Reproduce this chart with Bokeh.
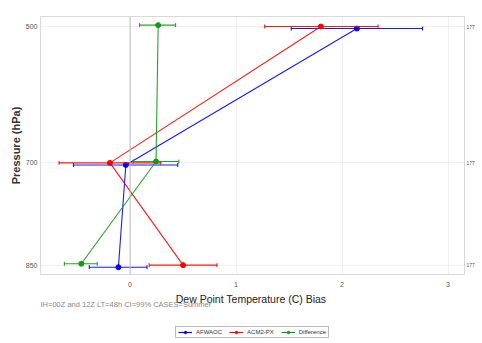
import math
from bokeh.plotting import figure
from bokeh.layouts import column
from bokeh.models import (Range1d, FixedTicker, LinearAxis, ColumnDataSource,
                          Span, Label, Legend, LegendItem)
from bokeh.embed import file_html
from bokeh.resources import INLINE

# ---------------- data ----------------
levels = [500, 700, 850]
sample_sizes = [177, 177, 177]

afwaoc_bias = [2.14, -0.04, -0.11]
afwaoc_lo = [1.52, -0.535, -0.385]
afwaoc_hi = [2.76, 0.45, 0.16]

acm2_bias = [1.80, -0.19, 0.50]
acm2_lo = [1.27, -0.67, 0.18]
acm2_hi = [2.34, 0.29, 0.82]

diff_bias = [0.265, 0.245, -0.46]
diff_lo = [0.09, 0.03, -0.62]
diff_hi = [0.43, 0.46, -0.31]

x_ticks = [0, 1, 2, 3]
x_title = "Dew Point Temperature (C) Bias"
y_title = "Pressure (hPa)"
caption = "IH=00Z and 12Z  LT=48h CI=99% CASES=Summer"

series = [
    ("AFWAOC", afwaoc_bias, afwaoc_lo, afwaoc_hi, "#0000ff", 3.0),
    ("ACM2-PX", acm2_bias, acm2_lo, acm2_hi, "#ff0000", 0.0),
    ("Difference", diff_bias, diff_lo, diff_hi, "#119911", -2.0),
]

FONT = "Liberation Sans"
LEFT, FW, FH, RIGHT = 40, 424, 258, 10
TOTAL_W = LEFT + FW + RIGHT

p = figure(frame_width=FW, frame_height=FH, output_backend="svg", toolbar_location=None,
           x_range=Range1d(-0.845, 3.155), y_range=Range1d(863.7, 485.3),
           min_border_left=LEFT, min_border_top=16, min_border_right=RIGHT, min_border_bottom=0)
p.background_fill_color = "white"
p.border_fill_color = "white"
p.outline_line_color = "#d9d9d9"
p.outline_line_width = 1

# grids
p.xgrid.ticker = FixedTicker(ticks=x_ticks)
p.ygrid.ticker = FixedTicker(ticks=levels)
for g in (p.xgrid, p.ygrid):
    g.grid_line_color = "#e3e3e3"
    g.grid_line_dash = "1 1"
    g.grid_line_width = 1

p.add_layout(Span(location=0, dimension="height", line_color="#bdbdbd", line_width=1))

def strip(ax):
    ax.axis_line_color = None
    ax.major_tick_line_color = None
    ax.minor_tick_line_color = None
    ax.major_tick_out = 0
    ax.major_tick_in = 0
    ax.minor_tick_out = 0
    ax.minor_tick_in = 0

# x axis (title drawn below with the caption)
xa = p.xaxis[0]
xa.ticker = FixedTicker(ticks=x_ticks)
xa.major_label_text_font = FONT
xa.major_label_text_font_size = "7px"
xa.major_label_text_color = "#555555"
xa.major_label_standoff = 7
strip(xa)

# y axis
ya = p.yaxis[0]
ya.ticker = FixedTicker(ticks=levels)
ya.axis_label = y_title
ya.axis_label_text_font = FONT
ya.axis_label_text_font_size = "11px"
ya.axis_label_text_font_style = "bold"
ya.axis_label_text_color = "#333333"
ya.axis_label_standoff = 1
ya.major_label_text_font = FONT
ya.major_label_text_font_size = "7px"
ya.major_label_text_color = "#555555"
ya.major_label_standoff = 3
strip(ya)

# right axis with sample sizes
p.extra_y_ranges = {"n": Range1d(863.7, 485.3)}
ra = LinearAxis(y_range_name="n", ticker=FixedTicker(ticks=levels),
                major_label_overrides={lv: str(n) for lv, n in zip(levels, sample_sizes)})
ra.major_label_text_font = FONT
ra.major_label_text_font_size = "5px"
ra.major_label_text_color = "#555555"
ra.major_label_standoff = 2
strip(ra)
p.add_layout(ra, "right")

for name, bias, lo, hi, color, dodge in series:
    ys = [lv + dodge for lv in levels]
    src = ColumnDataSource(dict(x=bias, y=ys, lo=lo, hi=hi))
    p.segment(x0="lo", y0="y", x1="hi", y1="y", source=src, line_color=color,
              line_width=1.1, line_alpha=0.9)
    p.scatter("lo", "y", source=src, marker="dash", angle=math.pi / 2, size=4,
              line_color=color, line_width=1)
    p.scatter("hi", "y", source=src, marker="dash", angle=math.pi / 2, size=4,
              line_color=color, line_width=1)
    p.line("x", "y", source=src, line_color=color, line_width=1.1, line_alpha=0.9)
    p.scatter("x", "y", source=src, size=5, fill_color=color, line_color=color)

# ---------------- bottom strip: x title, caption, legend ----------------
# (its frame is aligned by the column layout with the main plot's frame)
H2 = 50
q = figure(width=TOTAL_W, height=H2, output_backend="svg", toolbar_location=None,
           x_range=Range1d(0, FW), y_range=Range1d(H2, 0),
           x_axis_type=None, y_axis_type=None,
           min_border_left=0, min_border_right=0, min_border_top=0, min_border_bottom=0)
q.outline_line_color = None
q.grid.visible = False
q.background_fill_color = "white"
q.border_fill_color = "white"

q.add_layout(Label(x=FW / 2, y=9, text=x_title, text_font=FONT,
                   text_font_size="10.5px", text_color="#222222",
                   text_align="center", text_baseline="middle"))
q.add_layout(Label(x=0, y=15.3, text=caption, text_font=FONT,
                   text_font_size="7.5px", text_color="#888888",
                   text_align="left", text_baseline="middle"))

items = []
for name, bias, lo, hi, color, dodge in series:
    dummy = ColumnDataSource(dict(x=[float("nan")], y=[float("nan")]))
    ln = q.line("x", "y", source=dummy, line_color=color, line_width=1.2)
    sc = q.scatter("x", "y", source=dummy, size=4, fill_color=color, line_color=color)
    items.append(LegendItem(label=name, renderers=[ln, sc]))

legend = Legend(items=items, orientation="horizontal", location=(135, 1))
legend.label_text_font = FONT
legend.label_text_font_size = "6px"
legend.label_text_color = "#333333"
legend.label_height = 6
legend.label_standoff = 4
legend.glyph_width = 14
legend.glyph_height = 6
legend.spacing = 7
legend.padding = 2
legend.margin = 0
legend.border_line_color = "#777777"
legend.border_line_width = 1
legend.background_fill_alpha = 1
q.add_layout(legend, "center")

layout = column(p, q, spacing=0)
open("out.html", "w").write(file_html(layout, INLINE))
